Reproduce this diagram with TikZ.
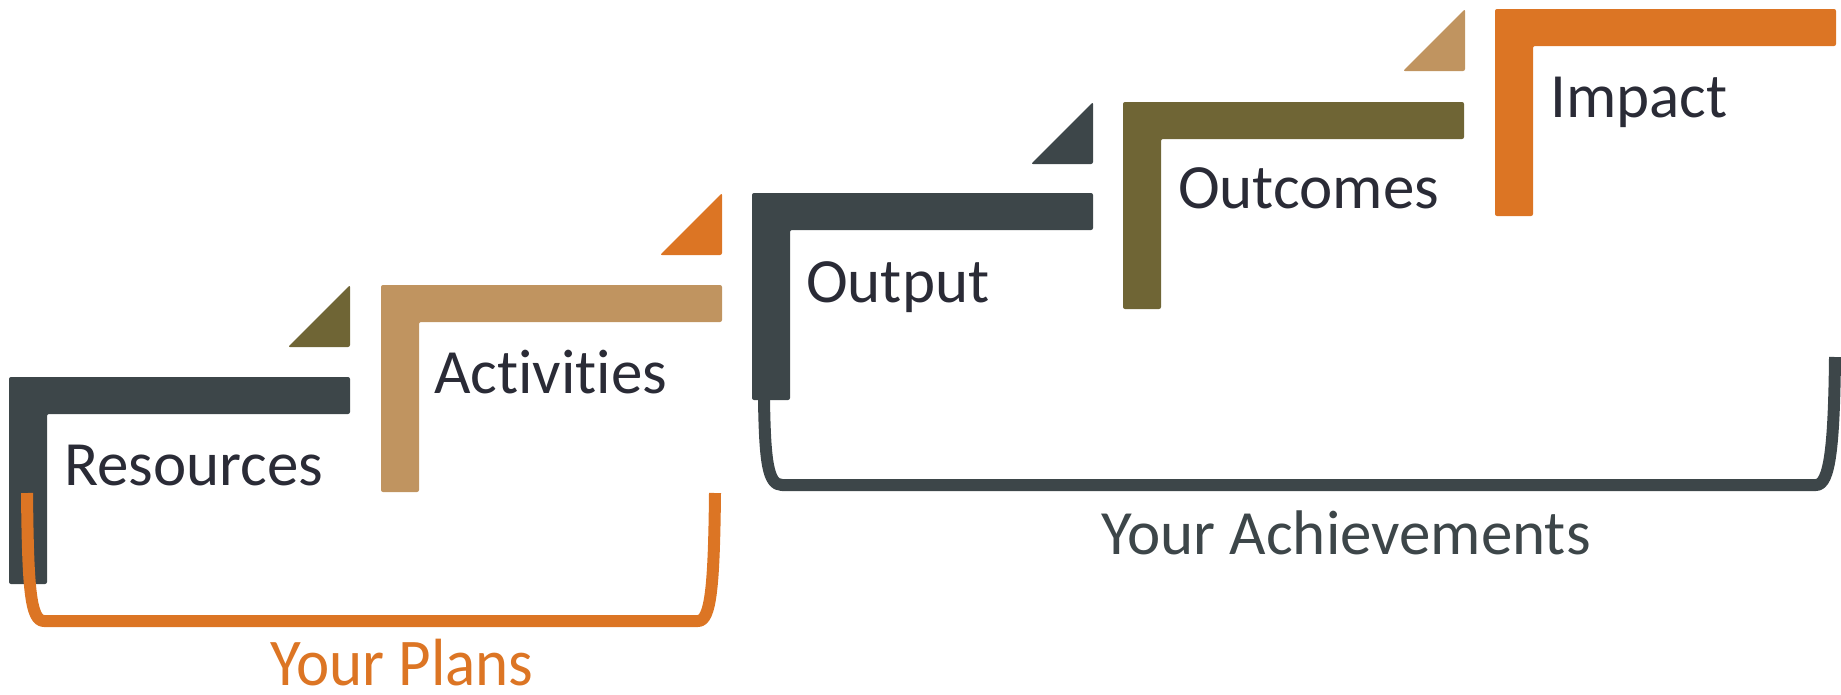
\documentclass[tikz,border=0pt]{standalone}
\usepackage{fontspec}
\setmainfont{Carlito}[Ligatures=NoCommon]
\definecolor{stepslate}{HTML}{3D4649}
\definecolor{steptan}{HTML}{C09460}
\definecolor{stepolive}{HTML}{6F6535}
\definecolor{steporange}{HTML}{DC7524}
\definecolor{steptext}{HTML}{2A2B36}
\tikzset{
  lbar/.style={rounded corners=2pt},
  steplabel/.style={anchor=base west, inner sep=0pt, text=steptext, font=\fontsize{63}{70}\selectfont},
  grouplabel/.style={anchor=base, inner sep=0pt, font=\fontsize{63}{70}\selectfont},
  bracket/.style={line width=12pt, line cap=butt, line join=round},
}
\newcommand\lstep[3]{%
  \fill[#3, lbar] (#1,#2) -- ++(341,0) -- ++(0,37) -- ++(-303,0) -- ++(0,170) -- ++(-38,0) -- cycle;}
\newcommand\ltri[3]{%
  \fill[#3, lbar] (#1,#2) -- ++(0,62) -- ++(-62,0) -- cycle;}
\begin{document}
\begin{tikzpicture}[x=1pt,y=-1pt]
\useasboundingbox (0,0) rectangle (1841,694);
% L-shaped steps
\lstep{9}{377}{stepslate}
\lstep{381}{285}{steptan}
\lstep{752}{193}{stepslate}
\lstep{1123}{102}{stepolive}
\lstep{1495}{9}{steporange}
% corner triangles
\ltri{350}{285}{stepolive}
\ltri{722}{193}{steporange}
\ltri{1093}{102}{stepslate}
\ltri{1465}{9}{steptan}
% step labels
\node[steplabel] (res) at (64,485) {Resources};
\node[steplabel] (act) at (434,393) {Activities};
\node[steplabel] (out) at (806,302) {Output};
\node[steplabel] (outc) at (1178,208) {Outcomes};
\node[steplabel] (imp) at (1550,117) {Impact};
% bracket end points
\coordinate (ach1) at (764,400);
\coordinate (ach2) at (1835,357);
\coordinate (pl1) at (27,493);
\coordinate (pl2) at (715,493);
% achievements bracket
\draw[bracket, stepslate] (ach1) .. controls (765,462) and (768,485) .. (782,485)
  -- (1816,485) .. controls (1830,485) and (1834,445) .. (ach2);
% plans bracket
\draw[bracket, steporange] (pl1) .. controls (28,585) and (30,621) .. (44,621)
  -- (698,621) .. controls (711,621) and (714,585) .. (pl2);
% group labels
\node[grouplabel, text=stepslate] (ach) at (1346,554) {Your Achievements};
\node[grouplabel, text=steporange, yscale=1.06] (plans) at (402,685) {Your Plans};
\end{tikzpicture}
\end{document}
